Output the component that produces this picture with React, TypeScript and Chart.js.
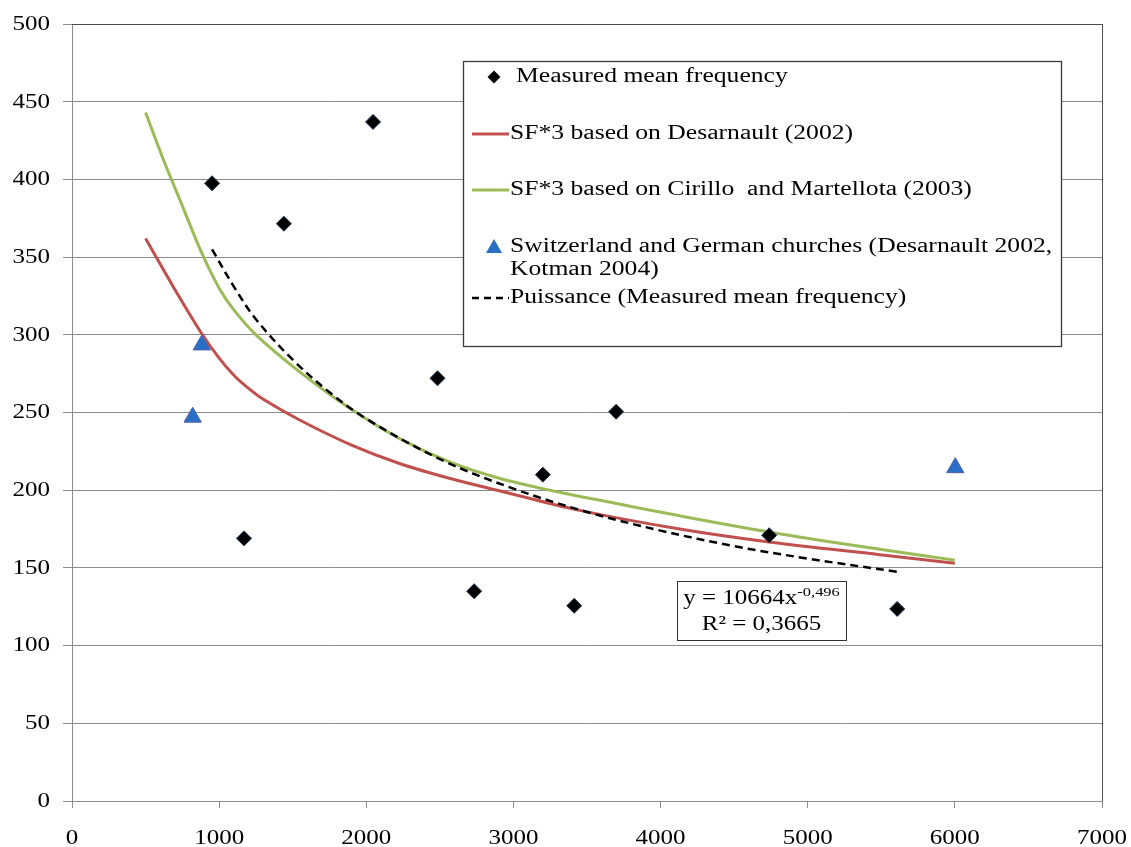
import React, { useEffect, useRef } from "react";
import { Chart, registerables } from "chart.js";

Chart.register(...registerables);

// ---------- Data ----------
const measuredX = [952, 1169, 1440, 2046, 2484, 2733, 3200, 3413, 3698, 4738, 5608];
const measuredY = [397.5, 169, 371.5, 437, 272, 135, 210, 125.6, 250.5, 171, 123.6];

const churchX = [820, 882, 6003];
const churchY = [247, 293.5, 214.5];

const desarnaultX = [500, 700, 880, 1000, 1100, 1200, 1300, 1550, 1900, 2230, 2570, 2910, 3450, 4130, 4750, 5490, 6000];
const desarnaultY = [362, 329, 301, 285, 274, 265.5, 258.5, 245, 229, 217, 207.5, 199.5, 187, 175, 166.5, 158.5, 153];

const cirilloX = [500, 620, 750, 880, 1000, 1100, 1250, 1550, 1890, 2230, 2570, 2910, 3320, 3590, 4130, 4745, 5490, 6000];
const cirilloY = [443, 413, 383, 353, 330, 316, 300, 276, 252.5, 233, 218, 207.5, 198.5, 193.5, 183.5, 173, 162, 155];

const trendX = [952, 1100, 1250, 1500, 1750, 2000, 2500, 3000, 3500, 4000, 4500, 5000, 5608];
const trendY = [355, 331, 310, 284, 263, 246, 220, 201, 186, 174, 164, 156, 147.5];

const xTickValues = [0, 1000, 2000, 3000, 4000, 5000, 6000, 7000];
const yTickValues = [0, 50, 100, 150, 200, 250, 300, 350, 400, 450, 500];

const legendLabels = [
  "Measured mean frequency",
  "SF*3 based on Desarnault (2002)",
  "SF*3 based on Cirillo  and Martellota (2003)",
  "Switzerland and German churches (Desarnault 2002,",
  "Kotman 2004)",
  "Puissance (Measured mean frequency)",
];

const equationMain = "y = 10664x";
const equationExp = "-0,496";
const equationR2 = "R\u00B2 = 0,3665";

// ---------- Styles ----------
const RED = "#c0504d";
const GREEN = "#9bbb59";
const BLUE = "#2a6fc6";
const GRID = "#8c8c8c";
const FONT = '"Liberation Serif", "Times New Roman", serif';

const toPoints = (xs: number[], ys: number[]) => xs.map((x, i) => ({ x, y: ys[i] }));

function sText(
  ctx: CanvasRenderingContext2D,
  text: string,
  x: number,
  y: number,
  align: CanvasTextAlign,
  sx: number
) {
  ctx.save();
  ctx.translate(x, y);
  ctx.scale(sx, 1);
  ctx.textAlign = align;
  ctx.textBaseline = "middle";
  ctx.fillText(text, 0, 0);
  ctx.restore();
}

const decorPlugin = {
  id: "decor",
  afterDraw(chart: any) {
    const ctx: CanvasRenderingContext2D = chart.ctx;
    const area = chart.chartArea;
    const xs = chart.scales.x;
    const ys = chart.scales.y;

    ctx.save();
    // top and right frame
    ctx.strokeStyle = "#4a4a4a";
    ctx.lineWidth = 1;
    ctx.beginPath();
    ctx.moveTo(area.left, Math.round(area.top) + 0.5);
    ctx.lineTo(area.right + 1, Math.round(area.top) + 0.5);
    ctx.moveTo(Math.round(area.right) + 0.5, area.top);
    ctx.lineTo(Math.round(area.right) + 0.5, area.bottom);
    ctx.stroke();

    // tick labels
    ctx.fillStyle = "#000";
    ctx.font = `20.5px ${FONT}`;
    ys.ticks.forEach((t: any) => {
      const py = ys.getPixelForValue(t.value);
      sText(ctx, String(t.value), area.left - 22, py + 0.5, "right", 1.22);
    });
    xs.ticks.forEach((t: any) => {
      const px = xs.getPixelForValue(t.value);
      sText(ctx, String(t.value), px, area.bottom + 38, "center", 1.22);
    });

    // legend box
    const lx = 463, ly = 61, lw = 598, lh = 285;
    ctx.fillStyle = "#fff";
    ctx.fillRect(lx, ly, lw, lh);
    ctx.strokeStyle = "#3a3a3a";
    ctx.lineWidth = 1.3;
    ctx.strokeRect(lx + 0.5, ly + 0.5, lw, lh);

    const symX = 494;
    const lineL = 472, lineR = 509;
    const textX = 510;
    const rows = [77, 134, 190, 247, 270, 298];

    // diamond
    ctx.fillStyle = "#000";
    ctx.beginPath();
    ctx.moveTo(symX, rows[0] - 6.5);
    ctx.lineTo(symX + 6.5, rows[0]);
    ctx.lineTo(symX, rows[0] + 6.5);
    ctx.lineTo(symX - 6.5, rows[0]);
    ctx.closePath();
    ctx.fill();
    // red line
    ctx.lineWidth = 3;
    ctx.strokeStyle = RED;
    ctx.beginPath();
    ctx.moveTo(lineL, rows[1]);
    ctx.lineTo(lineR, rows[1]);
    ctx.stroke();
    // green line
    ctx.strokeStyle = GREEN;
    ctx.beginPath();
    ctx.moveTo(lineL, rows[2]);
    ctx.lineTo(lineR, rows[2]);
    ctx.stroke();
    // triangle
    ctx.fillStyle = BLUE;
    ctx.beginPath();
    ctx.moveTo(symX, rows[3] - 8);
    ctx.lineTo(symX + 8, rows[3] + 6);
    ctx.lineTo(symX - 8, rows[3] + 6);
    ctx.closePath();
    ctx.fill();
    // dashed line
    ctx.strokeStyle = "#000";
    ctx.lineWidth = 2.5;
    ctx.setLineDash([7, 5]);
    ctx.beginPath();
    ctx.moveTo(lineL, rows[5]);
    ctx.lineTo(lineR, rows[5]);
    ctx.stroke();
    ctx.setLineDash([]);

    ctx.fillStyle = "#000";
    ctx.font = `20.5px ${FONT}`;
    legendLabels.forEach((lab, i) => {
      sText(ctx, lab, textX + (i === 0 ? 6 : 0), rows[i], "left", 1.25);
    });

    // equation box
    const bx = 677, by = 581, bw = 169, bh = 59;
    ctx.fillStyle = "#fff";
    ctx.fillRect(bx, by, bw, bh);
    ctx.strokeStyle = "#333";
    ctx.lineWidth = 1;
    ctx.strokeRect(bx + 0.5, by + 0.5, bw, bh);
    ctx.fillStyle = "#000";
    ctx.font = `20.5px ${FONT}`;
    const w1 = ctx.measureText(equationMain).width * 1.22;
    ctx.font = `13.5px ${FONT}`;
    const w2 = ctx.measureText(equationExp).width * 1.22;
    const cx = bx + bw / 2;
    const start = cx - (w1 + w2) / 2;
    ctx.font = `20.5px ${FONT}`;
    sText(ctx, equationMain, start, by + 18, "left", 1.22);
    ctx.font = `13.5px ${FONT}`;
    sText(ctx, equationExp, start + w1, by + 11, "left", 1.22);
    ctx.font = `20.5px ${FONT}`;
    sText(ctx, equationR2, cx, by + 44, "center", 1.22);

    ctx.restore();
  },
};

export default function App() {
  const canvasRef = useRef<HTMLCanvasElement | null>(null);

  useEffect(() => {
    document.body.style.margin = "0";
    const canvas = canvasRef.current;
    if (!canvas) return;

    const lineCommon = {
      showLine: true,
      pointRadius: 0,
      pointHoverRadius: 0,
      fill: false,
      tension: 0.35,
    };

    const chart = new Chart(canvas, {
      type: "scatter",
      data: {
        datasets: [
          {
            label: legendLabels[0],
            data: toPoints(measuredX, measuredY),
            pointStyle: "rectRot",
            pointRadius: 7.5,
            backgroundColor: "#000",
            borderColor: "#1b3556",
            borderWidth: 1,
            showLine: false,
          },
          {
            label: legendLabels[3],
            data: toPoints(churchX, churchY),
            pointStyle: "triangle",
            pointRadius: 10,
            backgroundColor: BLUE,
            borderColor: "#4f5fa8",
            borderWidth: 1,
            showLine: false,
          },
          {
            label: legendLabels[5],
            data: toPoints(trendX, trendY),
            ...lineCommon,
            borderColor: "#000",
            borderWidth: 2.5,
            borderDash: [8, 5],
          },
          {
            label: legendLabels[2],
            data: toPoints(cirilloX, cirilloY),
            ...lineCommon,
            borderColor: GREEN,
            borderWidth: 3,
          },
          {
            label: legendLabels[1],
            data: toPoints(desarnaultX, desarnaultY),
            ...lineCommon,
            borderColor: RED,
            borderWidth: 3,
          },
        ],
      },
      options: {
        animation: false,
        responsive: false,
        devicePixelRatio: 1,
        layout: { padding: { left: 0, top: 24, right: 29, bottom: 0 } },
        plugins: {
          legend: { display: false },
          tooltip: { enabled: false },
        },
        scales: {
          x: {
            type: "linear",
            min: xTickValues[0],
            max: xTickValues[xTickValues.length - 1],
            afterBuildTicks: (scale: any) => {
              scale.ticks = xTickValues.map((v) => ({ value: v }));
            },
            afterFit: (scale: any) => {
              scale.height = 46;
            },
            ticks: { display: false },
            grid: {
              drawOnChartArea: false,
              drawTicks: true,
              tickLength: 7,
              tickColor: GRID,
              color: GRID,
            },
            border: { display: true, color: GRID, width: 1 },
          },
          y: {
            type: "linear",
            min: yTickValues[0],
            max: yTickValues[yTickValues.length - 1],
            afterBuildTicks: (scale: any) => {
              scale.ticks = yTickValues.map((v) => ({ value: v }));
            },
            afterFit: (scale: any) => {
              scale.width = 72;
            },
            ticks: { display: false },
            grid: {
              drawOnChartArea: true,
              drawTicks: true,
              tickLength: 9,
              tickColor: GRID,
              color: GRID,
              lineWidth: 1,
            },
            border: { display: true, color: GRID, width: 1 },
          },
        },
      },
      plugins: [decorPlugin],
    });

    return () => {
      chart.destroy();
    };
  }, []);

  return (
    <div style={{ width: 1131, height: 847, position: "relative", background: "#fff" }}>
      <canvas ref={canvasRef} width={1131} height={847} style={{ display: "block" }} />
    </div>
  );
}
